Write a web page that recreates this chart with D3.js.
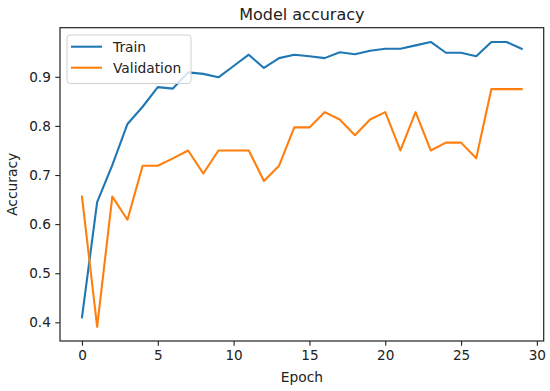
<!DOCTYPE html>
<html>
<head>
<meta charset="utf-8">
<script src="https://cdn.jsdelivr.net/npm/d3@7"></script>
<style>
  html, body { margin: 0; padding: 0; background: #fff; }
  svg { display: block; font-family: "DejaVu Sans", sans-serif; }
</style>
</head>
<body>
<svg id="chart" width="550" height="391"></svg>
<script>
const epochs = d3.range(0, 30);
const trainAcc = [0.41, 0.645, 0.72, 0.804, 0.839, 0.879, 0.876, 0.909, 0.906, 0.899,
                  0.922, 0.945, 0.918, 0.938, 0.945, 0.942, 0.938, 0.950, 0.946, 0.953,
                  0.957, 0.957, 0.964, 0.971, 0.949, 0.949, 0.942, 0.971, 0.971, 0.957];
const valAcc = [0.656, 0.391, 0.656, 0.609, 0.719, 0.719, 0.734, 0.750, 0.703, 0.750,
                0.750, 0.750, 0.688, 0.719, 0.797, 0.797, 0.828, 0.813, 0.781, 0.813,
                0.828, 0.750, 0.828, 0.750, 0.766, 0.766, 0.734, 0.875, 0.875, 0.875];
const xTicks = [0, 5, 10, 15, 20, 25, 30];
const yTicks = [0.4, 0.5, 0.6, 0.7, 0.8, 0.9];
const seriesNames = ["Train", "Validation"];
const seriesColors = ["#1f77b4", "#ff7f0e"];

const svg = d3.select("#chart");
const L = 60, R = 543.7, T = 27.7, B = 341;

const allY = trainAcc.concat(valAcc);
const yMin = d3.min(allY), yMax = d3.max(allY);
const yPad = (yMax - yMin) * 0.05;
const x = d3.scaleLinear().domain([-1.45, 30.45]).range([L, R]);
const y = d3.scaleLinear().domain([yMin - yPad, yMax + yPad]).range([B, T]);

// axes
const xAxis = svg.append("g").attr("transform", `translate(0,${B})`)
  .call(d3.axisBottom(x).tickValues(xTicks).tickFormat(d3.format("d")).tickSize(4.7).tickPadding(5));
const yAxis = svg.append("g").attr("transform", `translate(${L},0)`)
  .call(d3.axisLeft(y).tickValues(yTicks).tickFormat(d3.format(".1f")).tickSize(4.7).tickPadding(4.5));
[xAxis, yAxis].forEach(g => {
  g.select(".domain").remove();
  g.selectAll("line").attr("stroke", "#222").attr("stroke-width", 1.1);
  g.selectAll("text").attr("fill", "#222").style("font-size", "13.6px")
    .style("font-family", "'DejaVu Sans', sans-serif");
});

// lines
const line = d3.line().x((d, i) => x(epochs[i])).y(d => y(d));
[trainAcc, valAcc].forEach((s, k) => {
  svg.append("path").datum(s).attr("d", line)
    .attr("fill", "none").attr("stroke", seriesColors[k])
    .attr("stroke-width", 2.1).attr("stroke-linejoin", "round").attr("stroke-linecap", "square");
});

// frame
svg.append("rect").attr("x", L).attr("y", T).attr("width", R - L).attr("height", B - T)
  .attr("fill", "none").attr("stroke", "#222").attr("stroke-width", 1.2);

// legend
const lg = svg.append("g");
lg.append("rect").attr("x", 67).attr("y", 35).attr("width", 124).attr("height", 48.5)
  .attr("rx", 3).attr("fill", "#fff").attr("fill-opacity", 0.8)
  .attr("stroke", "#d0d0d0").attr("stroke-width", 1);
seriesNames.forEach((n, k) => {
  const cy = 46.7 + k * 21;
  lg.append("line").attr("x1", 71).attr("x2", 102).attr("y1", cy).attr("y2", cy)
    .attr("stroke", seriesColors[k]).attr("stroke-width", 2.1);
  lg.append("text").attr("x", 113).attr("y", cy + 5).text(n)
    .attr("fill", "#222").style("font-size", "13.8px");
});

// title & labels
svg.append("text").attr("x", (L + R) / 2).attr("y", 19.5).attr("text-anchor", "middle")
  .attr("fill", "#222").style("font-size", "16px").text("Model accuracy");
svg.append("text").attr("x", (L + R) / 2).attr("y", 382).attr("text-anchor", "middle")
  .attr("fill", "#222").style("font-size", "13.8px").text("Epoch");
svg.append("text").attr("transform", `translate(17,${(T + B) / 2}) rotate(-90)`)
  .attr("text-anchor", "middle").attr("fill", "#222").style("font-size", "13.8px").text("Accuracy");
</script>
</body>
</html>
